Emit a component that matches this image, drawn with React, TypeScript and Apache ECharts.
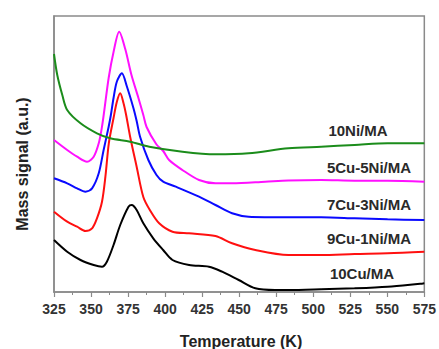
import React, { useEffect, useRef } from "react";
import * as echarts from "echarts";

// Temperature ticks (K)
const tempTicks = [325, 350, 375, 400, 425, 450, 475, 500, 525, 550, 575];

// Mass signal traces, [temperature (K), signal (a.u.)]
const ni10: [number, number][] = [
  [325, 238], [327.2, 217], [330.6, 197], [333.9, 182], [342.9, 168.7], [354, 158.7],
  [363, 153.7], [376.4, 150.3], [389.3, 145.3], [411.7, 140.3], [434, 137.7], [456.4, 138.7],
  [483.2, 143.7], [505.3, 145.3], [527.9, 147], [550.2, 148.7], [575, 148.7],
];

const cu5ni5: [number, number][] = [
  [325, 152], [333.9, 142], [340.6, 135.3], [347.3, 130.3], [351.8, 135.3], [355.2, 148.7],
  [357.4, 165.3], [359, 182], [361.9, 214], [365.2, 240], [369, 260.3], [373.1, 243],
  [377.3, 217], [382, 194], [385.3, 177], [387.5, 165], [394.2, 147.5], [398.7, 141],
  [402.7, 132], [411.7, 122], [422.9, 112], [434, 108.7], [445.2, 108.7], [467.6, 110.3],
  [483.2, 111.5], [505.3, 112], [527.9, 111.3], [550.2, 111.3], [575, 110.3],
];

const cu7ni3: [number, number][] = [
  [325, 113.7], [333.9, 108.7], [340.6, 103.7], [346.2, 100.3], [350.7, 103.7], [355.2, 118.7],
  [358.5, 142], [361.9, 165.3], [363.4, 177], [365.2, 194], [367.4, 210.3], [370.8, 218.7],
  [374.1, 206], [378.6, 184], [380.8, 171], [383.1, 155.3], [388.7, 132], [394.2, 117],
  [398.7, 110.3], [407.2, 105.3], [422.9, 95.3], [434, 87], [445.2, 78.7], [456.4, 75.3],
  [483.2, 74.7], [505.3, 74.7], [527.9, 73.7], [550.2, 72.7], [575, 72],
];

const cu9ni1: [number, number][] = [
  [325, 80.3], [333.9, 70.3], [340.6, 65.3], [346.2, 61], [350.7, 63.7], [354, 73.7],
  [357.4, 90.3], [359.7, 115.3], [362, 148.7], [365.2, 174], [367.4, 190], [369.7, 198.7],
  [371.9, 189], [373.7, 177], [376.4, 155.3], [380.8, 125.3], [385.3, 95], [389.7, 82],
  [396, 68.7], [405, 60.3], [416.2, 58.7], [434, 56], [445.2, 48.7], [460.9, 42],
  [483.2, 37], [505.3, 37], [527.9, 38], [550.2, 38.7], [575, 40.3],
];

const cu10: [number, number][] = [
  [325, 52], [333.9, 40.3], [342.9, 32], [351.8, 27], [357.4, 25.3], [360.7, 30.3],
  [365.2, 47], [369.7, 67], [375.3, 85.3], [377.5, 87], [380.8, 82], [385.3, 68.7],
  [392, 53.7], [398.7, 42], [405, 32], [416.2, 27], [429.6, 25.3], [438.5, 20.3],
  [449.7, 12], [460.9, 3.7], [474.3, 2], [483.2, 2], [505.3, 2.7], [527.9, 3.7],
  [550.2, 5.3], [575, 8.7],
];

const seriesNames = ["10Ni/MA", "5Cu-5Ni/MA", "7Cu-3Ni/MA", "9Cu-1Ni/MA", "10Cu/MA"];
const seriesData = [ni10, cu5ni5, cu7ni3, cu9ni1, cu10];
const seriesColors = ["#1b8c1b", "#ff10ff", "#0a0aff", "#ff1010", "#000000"];

// Curve label anchors (pixel positions in the chart)
const labelPos: [number, number][] = [
  [358, 130], [369, 167], [369, 204], [369, 238], [362, 273],
];

const FONT = "Liberation Sans, Arial, sans-serif";

export default function App() {
  const ref = useRef<HTMLDivElement>(null);

  useEffect(() => {
    if (!ref.current) return;
    const chart = echarts.init(ref.current, undefined, { renderer: "svg" });
    chart.setOption({
      animation: false,
      backgroundColor: "#ffffff",
      grid: {
        left: 54,
        right: 12,
        top: 16,
        bottom: 57,
        show: true,
        borderColor: "#8a8a8a",
        borderWidth: 1.5,
        backgroundColor: "transparent",
      },
      xAxis: {
        type: "value",
        min: tempTicks[0],
        max: tempTicks[tempTicks.length - 1],
        interval: 25,
        axisLine: { show: true, lineStyle: { color: "#8a8a8a", width: 1.5 } },
        axisTick: { show: true, length: 5, lineStyle: { color: "#8a8a8a", width: 1.2 } },
        minorTick: { show: true, splitNumber: 2, length: 3, lineStyle: { color: "#8a8a8a", width: 1 } },
        splitLine: { show: false },
        axisLabel: {
          color: "#333333",
          fontSize: 14,
          fontWeight: "bold",
          fontFamily: FONT,
          margin: 10,
        },
      },
      yAxis: {
        type: "value",
        min: 0,
        max: 276,
        axisLine: { show: true, lineStyle: { color: "#8a8a8a", width: 1.5 } },
        axisTick: { show: false },
        axisLabel: { show: false },
        splitLine: { show: false },
      },
      series: seriesData.map((d, i) => ({
        name: seriesNames[i],
        type: "line",
        data: d,
        showSymbol: false,
        smooth: 0.3,
        lineStyle: { color: seriesColors[i], width: 2 },
        itemStyle: { color: seriesColors[i] },
        z: 10 - i,
      })),
      graphic: [
        ...seriesNames.map((name, i) => ({
          type: "text",
          x: labelPos[i][0],
          y: labelPos[i][1],
          style: {
            text: name,
            fill: "#2a2a2a",
            font: `bold 15px ${FONT}`,
            textAlign: "center",
            textVerticalAlign: "middle",
          },
        })),
        {
          type: "text",
          x: 241,
          y: 341,
          style: {
            text: "Temperature (K)",
            fill: "#222222",
            font: `bold 16px ${FONT}`,
            textAlign: "center",
            textVerticalAlign: "middle",
          },
        },
        {
          type: "text",
          x: 22,
          y: 164,
          rotation: Math.PI / 2,
          style: {
            text: "Mass signal (a.u.)",
            fill: "#222222",
            font: `bold 16px ${FONT}`,
            textAlign: "center",
            textVerticalAlign: "middle",
          },
        },
      ],
    });
    return () => chart.dispose();
  }, []);

  return (
    <div
      ref={ref}
      style={{ position: "fixed", left: 0, top: 0, width: 439, height: 349, background: "#fff" }}
    />
  );
}
